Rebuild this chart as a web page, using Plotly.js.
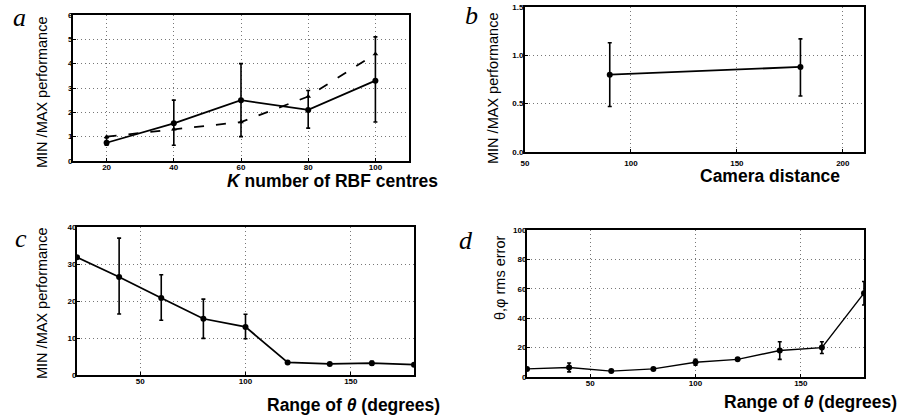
<!DOCTYPE html>
<html>
<head>
<meta charset="utf-8">
<script src="https://cdn.plot.ly/plotly-3.0.1.min.js"></script>
<style>html,body{margin:0;padding:0;background:#fff;}#chart{width:906px;height:418px;}</style>
</head>
<body>
<div id="chart"></div>
<script>
// ---- data ----
var kCentres = [20, 40, 60, 80, 100];
var aSolid = [0.75, 1.55, 2.5, 2.1, 3.3];
var aSolidErrPlus = [0.2, 0.95, 1.5, 0.8, 1.8];
var aSolidErrMinus = [0.1, 0.9, 1.5, 0.75, 1.7];
var aDashed = [1.0, 1.3, 1.6, 2.65, 4.4];

var camDist = [90, 180];
var bVal = [0.80, 0.88];
var bErrPlus = [0.33, 0.29];
var bErrMinus = [0.33, 0.30];

var thetaRange = [20, 40, 60, 80, 100, 120, 140, 160, 180];
var cVal = [31.8, 26.5, 20.8, 15.2, 13.0, 3.4, 3.0, 3.2, 2.8];
var cErrPlus = [0, 10.5, 6.3, 5.3, 3.4, 0, 0, 0.5, 0];
var cErrMinus = [0, 10, 6, 5.3, 3.2, 0, 0, 0.5, 0];

var dVal = [5.5, 6.5, 4, 5.5, 10, 12, 18, 20, 57];
var dErrPlus = [0, 3, 0, 0, 2, 0, 6, 4, 8];
var dErrMinus = [0, 3, 0, 0, 2, 0, 6, 4, 8];

var aTicks = [20, 40, 60, 80, 100];
var aYTicks = [0, 1, 2, 3, 4, 5, 6];
var bTicks = [50, 100, 150, 200];
var bYTicks = [0, 0.5, 1.0, 1.5];
var bYLabels = ['0.0', '0.5', '1.0', '1.5'];
var cTicks = [50, 100, 150];
var cYTicks = [0, 10, 20, 30, 40];
var dYTicks = [0, 20, 40, 60, 80, 100];

// ---- styling ----
var W = 906, H = 418;
function dom(x0, x1, y0, y1) { return {x: [x0 / W, x1 / W], y: [1 - y1 / H, 1 - y0 / H]}; }
var dA = dom(73, 409, 15, 161), dB = dom(525, 864, 7, 152), dC = dom(77, 414, 227, 375), dD = dom(527, 864, 230, 377);
var tickFont = {family: 'Liberation Sans, Arial, sans-serif', size: 8, color: '#000', weight: 'bold'};
function ax(domain, range, tickvals, ticktext, anchor, standoff) {
  var o = {domain: domain, range: range, tickvals: tickvals, showline: true, mirror: true, linewidth: 2, linecolor: '#000',
    showgrid: true, gridcolor: '#777', griddash: '1px,3px', gridwidth: 1, zeroline: false, ticks: 'inside', ticklen: 3,
    tickcolor: '#000', tickfont: tickFont, anchor: anchor, fixedrange: true,
    ticklabelstandoff: (standoff === undefined ? -3 : standoff)};
  if (ticktext) o.ticktext = ticktext;
  return o;
}
var lineS = {color: '#000', width: 1.8};
var mk = {color: '#000', size: 6, symbol: 'circle'};
function err(p, m) { return {type: 'data', symmetric: false, array: p, arrayminus: m, color: '#000', thickness: 1.6, width: 2}; }

var traces = [
  {x: kCentres, y: aSolid, xaxis: 'x', yaxis: 'y', mode: 'lines+markers', line: lineS, marker: mk, error_y: err(aSolidErrPlus, aSolidErrMinus)},
  {x: kCentres, y: aDashed, xaxis: 'x', yaxis: 'y', mode: 'lines+markers', line: {color: '#000', width: 1.8, dash: '10px,12px'}, marker: {color: '#000', size: 5, symbol: 'triangle-up'}},
  {x: camDist, y: bVal, xaxis: 'x2', yaxis: 'y2', mode: 'lines+markers', line: lineS, marker: mk, error_y: err(bErrPlus, bErrMinus)},
  {x: thetaRange, y: cVal, xaxis: 'x3', yaxis: 'y3', mode: 'lines+markers', line: lineS, marker: mk, error_y: err(cErrPlus, cErrMinus)},
  {x: thetaRange, y: dVal, xaxis: 'x4', yaxis: 'y4', mode: 'lines+markers', line: {color: '#000', width: 1.4}, marker: mk, error_y: err(dErrPlus, dErrMinus)}
];

var titleFont = {family: 'Liberation Sans, Arial, sans-serif', size: 17.5, color: '#000', weight: 'bold'};
var yFont = {family: 'Liberation Sans, Arial, sans-serif', size: 14.5, color: '#000'};
var lblFont = {family: 'Liberation Serif, Times New Roman, serif', size: 26, color: '#000', style: 'italic'};
function ann(text, x, y, font, angle) {
  return {text: text, x: x / W, y: 1 - y / H, xref: 'paper', yref: 'paper', showarrow: false, font: font, textangle: angle || 0, xanchor: 'center', yanchor: 'middle'};
}

var layout = {
  width: W, height: H, margin: {l: 0, r: 0, t: 0, b: 0}, paper_bgcolor: '#fff', plot_bgcolor: '#fff', showlegend: false,
  xaxis: ax(dA.x, [10, 110], aTicks, null, 'y'),
  yaxis: ax(dA.y, [0, 6], aYTicks, null, 'x'),
  xaxis2: ax(dB.x, [50, 210], bTicks, null, 'y2', 2),
  yaxis2: ax(dB.y, [0, 1.5], bYTicks, bYLabels, 'x2', -2),
  xaxis3: ax(dC.x, [20, 180], cTicks, null, 'y3'),
  yaxis3: ax(dC.y, [0, 40], cYTicks, null, 'x3'),
  xaxis4: ax(dD.x, [20, 180], cTicks, null, 'y4'),
  yaxis4: ax(dD.y, [0, 100], dYTicks, null, 'x4'),
  annotations: [
    ann('<i>K</i> number of RBF centres', 332, 181, titleFont),
    ann('Camera distance', 770, 176, titleFont),
    ann('Range of <i>θ</i> (degrees)', 353, 405, titleFont),
    ann('Range of <i>θ</i> (degrees)', 810, 402, titleFont),
    ann('MIN /MAX performance', 42, 92, yFont, -90),
    ann('MIN /MAX performance', 493, 88, yFont, -90),
    ann('MIN /MAX performance', 42, 303, yFont, -90),
    ann('θ,φ rms error', 500, 278, yFont, -90),
    ann('a', 19, 17, lblFont),
    ann('b', 471, 16, lblFont),
    ann('c', 21, 238, lblFont),
    ann('d', 466, 240, lblFont)
  ]
};
Plotly.newPlot('chart', traces, layout, {staticPlot: true, displayModeBar: false});
</script>
</body>
</html>
